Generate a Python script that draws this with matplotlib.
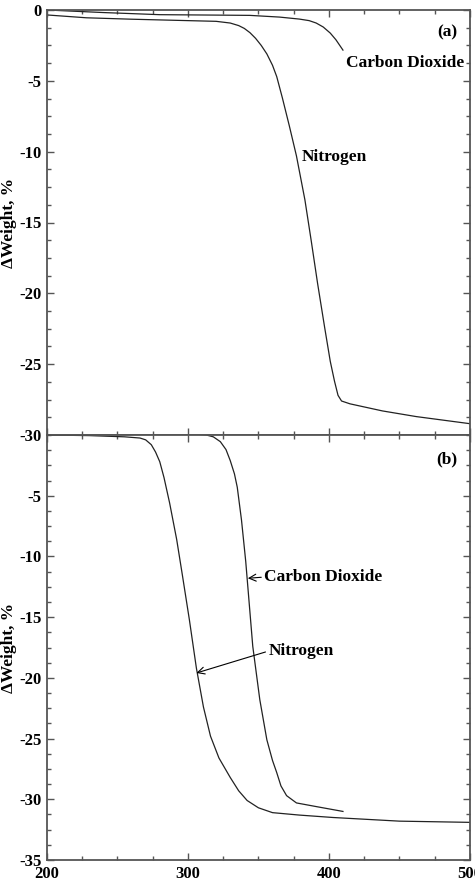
import matplotlib
matplotlib.use("Agg")
import matplotlib.pyplot as plt
from matplotlib.ticker import MultipleLocator

# (a) top panel - weight loss curves
a_co2_T = [200, 240, 280, 320, 344, 365, 379, 386, 391, 396, 401, 405, 410]
a_co2_W = [0.0, -0.18, -0.33, -0.36, -0.38, -0.5, -0.64, -0.75, -0.92, -1.2, -1.63, -2.1, -2.83]

a_n2_T = [200, 228, 260, 300, 320, 330, 336, 340, 344, 348, 352, 356, 360, 363, 367, 372, 377, 383,
          387.5, 392, 397, 401, 404, 406.5, 409, 415, 438, 462, 500]
a_n2_W = [-0.35, -0.55, -0.65, -0.75, -0.8, -0.92, -1.1, -1.3, -1.6, -2.0, -2.5, -3.1, -3.9, -4.7, -6.2, -8.2, -10.3, -13.4,
          -16.3, -19.3, -22.4, -24.8, -26.2, -27.2, -27.6, -27.8, -28.3, -28.7, -29.2]

# (b) bottom panel
b_co2_T = [200, 260, 290, 305, 313, 318, 323, 327, 330, 333, 335, 338, 341, 343, 346, 351, 356,
           360, 363, 366, 370, 377, 391, 410]
b_co2_W = [0.0, 0.05, 0.1, 0.08, 0.0, -0.15, -0.55, -1.2, -2.1, -3.2, -4.3, -7.0, -10.4, -13.2, -17.4, -21.8, -25.1,
           -26.8, -27.8, -28.9, -29.7, -30.3, -30.6, -31.0]

b_n2_T = [200, 230, 255, 266, 270, 274, 277, 280, 283, 287, 292, 296, 301, 306, 311, 316,
          322, 330, 336, 342, 350, 360, 379, 403, 450, 500]
b_n2_W = [0.0, -0.05, -0.15, -0.25, -0.4, -0.8, -1.4, -2.2, -3.5, -5.6, -8.6, -11.5, -15.2, -19.2, -22.4, -24.8,
          -26.6, -28.2, -29.3, -30.1, -30.7, -31.1, -31.3, -31.5, -31.8, -31.9]

plt.rcParams['font.family'] = ['Liberation Serif', 'DejaVu Serif']
plt.rcParams['font.weight'] = 'bold'
plt.rcParams['font.size'] = 12.5
plt.rcParams['axes.unicode_minus'] = False

LINE = '#222222'
SPINE = '#555555'


def style_axis(ax):
    for s in ax.spines.values():
        s.set_color(SPINE)
        s.set_linewidth(1.3)
    ax.tick_params(which='both', direction='in', top=True, right=True,
                   color=SPINE, width=1.0)
    ax.tick_params(which='major', length=5, pad=4, labelsize=12)
    ax.tick_params(which='minor', length=3)
    ax.xaxis.set_major_locator(MultipleLocator(100))
    ax.xaxis.set_minor_locator(MultipleLocator(25))
    ax.yaxis.set_minor_locator(MultipleLocator(1.25))
    ax.set_ylabel('ΔWeight, %', fontsize=12.5, fontweight='bold')
    ax.yaxis.set_label_coords(-0.07, 0.5)


fig, (ax1, ax2) = plt.subplots(2, 1, sharex=True, figsize=(4.75, 8.83), dpi=100)
fig.subplots_adjust(left=0.099, right=0.989, top=1 - 10 / 883, bottom=1 - 860 / 883, hspace=0)

# top panel
ax1.plot(a_co2_T, a_co2_W, color=LINE, lw=0.9)
ax1.plot(a_n2_T, a_n2_W, color=LINE, lw=0.9)
ax1.set_xlim(200, 500)
ax1.set_ylim(-30, 0)
ax1.set_yticks(range(-30, 1, 5))
style_axis(ax1)
ax1.text(484, -1.6, '(a)', ha='center', va='center')
ax1.text(454, -3.75, 'Carbon Dioxide', ha='center', va='center')
ax1.text(404, -10.4, 'Nitrogen', ha='center', va='center')

# bottom panel
ax2.plot(b_co2_T, b_co2_W, color=LINE, lw=0.9)
ax2.plot(b_n2_T, b_n2_W, color=LINE, lw=0.9)
ax2.set_ylim(-35, 0)
ax2.set_yticks(range(-35, 0, 5))
style_axis(ax2)
ax2.text(484, -2.0, '(b)', ha='center', va='center')
arrow = dict(arrowstyle='->', lw=0.8, color='k', shrinkA=0, shrinkB=0, relpos=(0, 0.5))
ax2.annotate('Carbon Dioxide', xy=(342.5, -11.8), xytext=(354, -11.7),
             ha='left', va='center', arrowprops=arrow)
ax2.annotate('Nitrogen', xy=(306, -19.6), xytext=(357, -17.8),
             ha='left', va='center', arrowprops=arrow)

fig.savefig('out.png', dpi=100)
